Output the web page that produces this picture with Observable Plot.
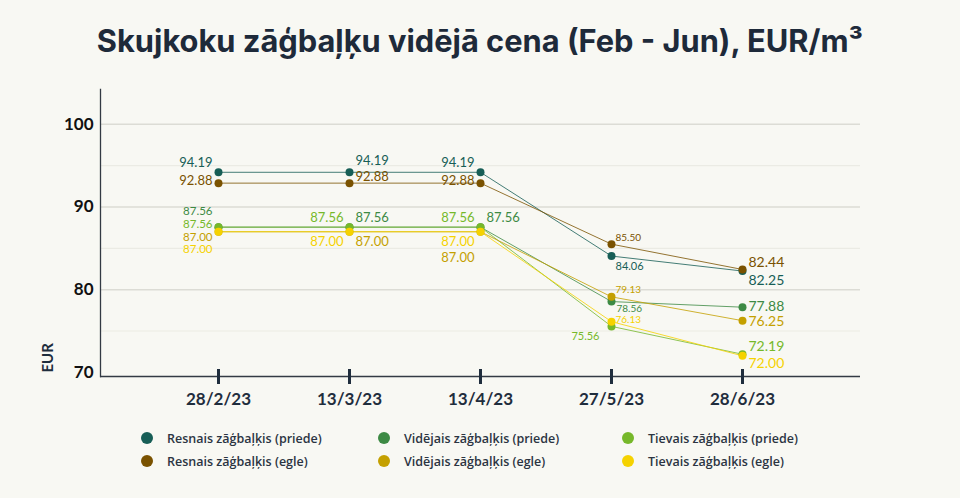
<!DOCTYPE html>
<html>
<head>
<meta charset="utf-8">
<script src="https://cdn.jsdelivr.net/npm/d3@7"></script>
<script src="https://cdn.jsdelivr.net/npm/@observablehq/plot@0.6"></script>
<style>
  html, body { margin: 0; padding: 0; background: #f8f8f3; }
  body { width: 960px; height: 498px; overflow: hidden; font-family: Lato, "Open Sans", sans-serif; }
  #title { position: absolute; left: 0; top: 22px; width: 960px; text-align: center;
    font-family: Inter, Lato, sans-serif; font-weight: 700; font-size: 30.8px; color: #1e2a3a; }
  #chart { position: absolute; left: 0; top: 78px; }
  #legend { position: absolute; left: 0; top: 427px; width: 960px; }
  .row { position: absolute; left: 0; width: 960px; height: 22px; }
  .item { position: absolute; display: flex; align-items: center; height: 22px;
    font-family: "Open Sans", Lato, sans-serif; font-weight: 600; font-size: 12.5px; color: #2b3442; }
  .dot { width: 12px; height: 12px; border-radius: 50%; margin-right: 14px; }
</style>
</head>
<body>
<div id="title">Skujkoku zāģbaļķu vidējā cena (Feb - Jun), EUR/m³</div>
<div id="chart"></div>
<div id="legend"></div>
<script>
// ---- data ----
const dates = ["28/2/23", "13/3/23", "13/4/23", "27/5/23", "28/6/23"];
const seriesNames = [
  "Resnais zāģbaļķis (priede)",
  "Vidējais zāģbaļķis (priede)",
  "Tievais zāģbaļķis (priede)",
  "Resnais zāģbaļķis (egle)",
  "Vidējais zāģbaļķis (egle)",
  "Tievais zāģbaļķis (egle)"
];
const resnaisPriede  = [94.19, 94.19, 94.19, 84.06, 82.25];
const vidējaisPriede = [87.56, 87.56, 87.56, 78.56, 77.88];
const tievaisPriede  = [87.56, 87.56, 87.56, 75.56, 72.19];
const resnaisEgle    = [92.88, 92.88, 92.88, 85.50, 82.44];
const vidējaisEgle   = [87.00, 87.00, 87.00, 79.13, 76.25];
const tievaisEgle    = [87.00, 87.00, 87.00, 76.13, 72.00];
const yTicks = [70, 80, 90, 100];

// ---- styling ----
const colors = ["#175e56", "#3d8a44", "#76b82a", "#7a5200", "#c4a000", "#f5d200"];
const values = [resnaisPriede, vidējaisPriede, tievaisPriede, resnaisEgle, vidējaisEgle, tievaisEgle];
// label placement per series per date: [dx, dy, anchor, fontSize]
const place = [
  [[-6,-9,"end",13],[6,-11,"start",13],[-6,-9,"end",13],[4,10,"start",11],[6,9,"start",14]],
  [[-6,-16,"end",11.5],[6,-9,"start",13],[6,-9,"start",13],[5,7,"start",10],[6,-1,"start",14]],
  [[-6,-3,"end",11.5],[-6,-9,"end",13],[-6,-9,"end",13],[-12,10,"end",11],[6,-8,"start",14]],
  [[-6,-2,"end",13],[6,-6,"start",13],[-6,-2,"end",13],[4,-6,"start",10],[6,-7,"start",14]],
  [[-6,5.5,"end",11.5],[6,10,"start",13],[-6,26,"end",13],[4,-7,"start",10],[6,1,"start",14]],
  [[-6,18,"end",11.5],[-6,10,"end",13],[-6,10,"end",13],[4,-2,"start",10],[6,8,"start",14]]
];

const rows = [];
values.forEach((vals, s) => vals.forEach((v, i) => rows.push({
  series: seriesNames[s], s, date: dates[i], i, value: v,
  dx: place[s][i][0], dy: place[s][i][1], anchor: place[s][i][2], fs: place[s][i][3]
})));

// one text mark per distinct placement (dx/dy/anchor/size are constants in Plot.text)
const groups = d3.groups(rows, r => `${r.anchor}|${r.fs}|${r.dx}|${r.dy}`);
const labelMarks = groups.map(([key, sub]) => Plot.text(sub, {
  x: "date", y: "value", text: d => d.value.toFixed(2),
  fill: d => colors[d.s], textAnchor: sub[0].anchor, dx: sub[0].dx, dy: sub[0].dy,
  fontSize: sub[0].fs, fontFamily: "Lato, sans-serif"
}));

const yMin = 69.5, yMax = 104.2;
const chart = Plot.plot({
  width: 960,
  height: 338,
  marginLeft: 100,
  marginRight: 100,
  marginTop: 11,
  marginBottom: 40,
  style: { background: "transparent", fontFamily: "Lato, sans-serif", overflow: "visible" },
  x: { type: "point", domain: dates, padding: 0.88, label: null },
  y: { domain: [yMin, yMax], label: null },
  marks: [
    Plot.ruleY([75, 85, 95], { stroke: "#ebebe4", strokeWidth: 1.2 }),
    Plot.ruleY([80, 90, 100], { stroke: "#dcdcd5", strokeWidth: 1.5 }),
    Plot.frame({ anchor: "left", stroke: "#333a44", strokeWidth: 1.3 }),
    Plot.ruleY([yMin], { stroke: "#333a44", strokeWidth: 1.3 }),
    Plot.ruleX(dates, { x: d => d, y1: yMin - 8 / 8.25, y2: yMin + 7 / 8.25, stroke: "#1f2d3d", strokeWidth: 3, clip: false }),
    Plot.axisX({ tickSize: 0, tickPadding: 16, fontSize: 17, fontWeight: 700, fill: "#1f2d3d", fontFamily: "Lato, sans-serif" }),
    Plot.axisY(yTicks, { tickSize: 0, tickPadding: 7, fontSize: 17, fontWeight: 700, fill: "#111", fontFamily: "Lato, sans-serif" }),
    Plot.text(["EUR"], { frameAnchor: "bottom-left", dx: -48, dy: -4, rotate: -90, textAnchor: "start",
      fontSize: 15, fontWeight: 700, fill: "#1f2d3d" }),
    Plot.line(rows, { x: "date", y: "value", z: "series", stroke: d => colors[d.s], strokeWidth: 1, strokeOpacity: 0.8 }),
    Plot.dot(rows, { x: "date", y: "value", fill: d => colors[d.s], r: 4 }),
    ...labelMarks
  ]
});
document.getElementById("chart").appendChild(chart);

// legend
const legend = document.getElementById("legend");
const colLeft = [141, 378, 622];
[0, 1].forEach(r => {
  const row = document.createElement("div");
  row.className = "row";
  row.style.top = (r * 23) + "px";
  [0, 1, 2].forEach(c => {
    const s = r * 3 + c;
    const item = document.createElement("div");
    item.className = "item";
    item.style.left = colLeft[c] + "px";
    item.innerHTML = `<span class="dot" style="background:${colors[s]}"></span>${seriesNames[s]}`;
    row.appendChild(item);
  });
  legend.appendChild(row);
});
</script>
</body>
</html>
